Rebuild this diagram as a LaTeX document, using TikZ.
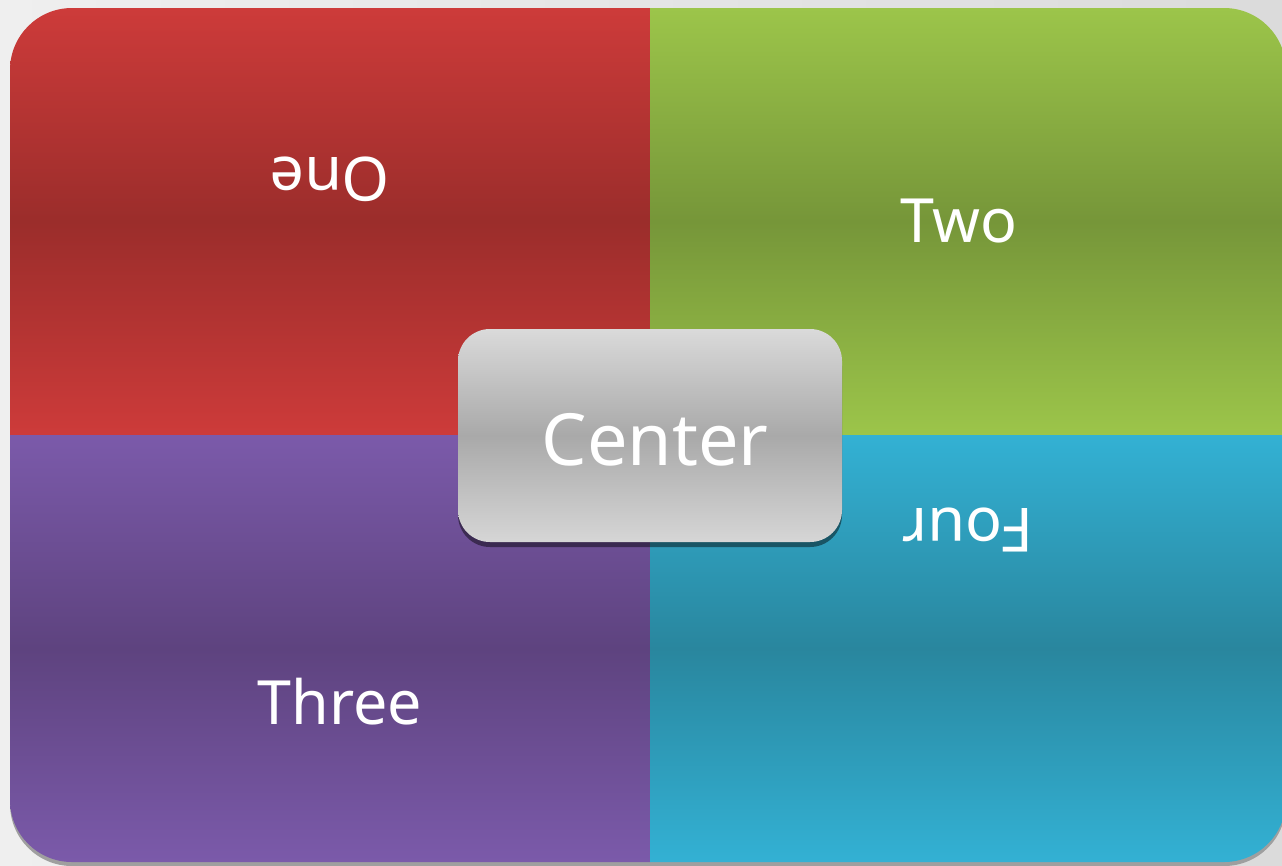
\documentclass[tikz,border=0pt]{standalone}
\usepackage{fontspec}
\setmainfont{Noto Sans}
\begin{document}
\begin{tikzpicture}[x=1pt,y=-1pt,
  lbl/.style={text=white,font=\fontsize{61}{70}\selectfont,inner sep=0pt}]
\definecolor{redT}{HTML}{CD3B3A}\definecolor{redM}{HTML}{9B2D2B}
\definecolor{grnT}{HTML}{9CC54A}\definecolor{grnM}{HTML}{769639}
\definecolor{purT}{HTML}{7B5AAA}\definecolor{purM}{HTML}{5E437F}
\definecolor{bluT}{HTML}{33B1D4}\definecolor{bluM}{HTML}{29869E}
\definecolor{bgL}{HTML}{EFEFEF}\definecolor{bgR}{HTML}{DBDBDB}
\definecolor{cenT}{HTML}{DADADA}\definecolor{cenM}{HTML}{A9A9A9}\definecolor{cenB}{HTML}{D6D6D6}
\useasboundingbox (0,0) rectangle (1282,865);
\shade[left color=bgL,right color=bgR] (0,0) rectangle (1282,865);
% shadow of main panel
\fill[gray!75,rounded corners=62pt] (10,12) rectangle (1286,866);
\begin{scope}
\clip[rounded corners=62pt] (10,8) rectangle (1286,862);
\shade[top color=redT,bottom color=redT,middle color=redM] (10,8) rectangle (650,435);
\shade[top color=grnT,bottom color=grnT,middle color=grnM] (650,8) rectangle (1286,435);
\shade[top color=purT,bottom color=purT,middle color=purM] (10,435) rectangle (650,862);
\shade[top color=bluT,bottom color=bluT,middle color=bluM] (650,435) rectangle (1286,862);
\end{scope}
\node[lbl,rotate=180] (one) at (330,179) {One};
\node[lbl] (two) at (959,221) {Two};
\node[lbl] (three) at (340,702) {Three};
\node[lbl,rotate=180] (four) at (968,530) {Four};
% center box
\fill[black,opacity=0.45,rounded corners=32pt] (458,334) rectangle (842,547);
\shade[top color=cenT,bottom color=cenB,middle color=cenM,rounded corners=32pt] (458,329) rectangle (842,542);
\node[text=white,font=\fontsize{72}{80}\selectfont,inner sep=0pt] (center) at (655,440) {Center};
\end{tikzpicture}
\end{document}
